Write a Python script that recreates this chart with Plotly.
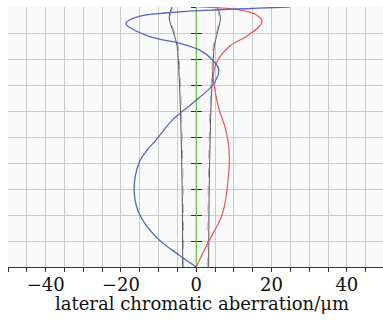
import plotly.graph_objects as go

# field (normalized) and lateral color values (µm)
blue_y = [0.0, 0.045, 0.116, 0.207, 0.296, 0.40, 0.45, 0.488, 0.566, 0.63, 0.70, 0.758, 0.796, 0.835, 0.861, 0.887, 0.938, 0.964, 0.977, 0.986, 1.0]
blue_x = [0.0, -4.5, -10.7, -15.2, -16.5, -15.2, -13.0, -10.7, -6.3, -1.0, 4.35, 6.0, 4.35, 0.8, -4.5, -12.5, -18.7, -15.2, -8.1, 0.8, 24.8]

red_y = [0.0, 0.09, 0.206, 0.36, 0.424, 0.488, 0.55, 0.604, 0.695, 0.733, 0.784, 0.848, 0.887, 0.926, 0.945, 0.970, 0.989, 1.0]
red_x = [0.0, 3.0, 7.0, 8.6, 8.8, 8.4, 7.4, 6.1, 4.8, 4.5, 5.3, 8.8, 13.3, 16.8, 17.5, 15.9, 11.5, 0.5]

green_y = [0.0, 1.0]
green_x = [0.0, 0.0]

airy_y = [0.0, 0.25, 0.5, 0.65, 0.75, 0.85, 0.9, 0.96, 1.0]
airy_left = [-3.6, -3.7, -4.0, -4.3, -4.6, -5.1, -6.0, -7.2, -6.5]
airy_right = [3.3, 3.4, 3.7, 4.0, 4.4, 4.8, 5.6, 6.4, 5.6]

xmin, xmax = -50, 49.6
xtickvals = [-40, -20, 0, 20, 40]
xticktext = ["−40", "−20", "0", "20", "40"]
yticks = [0.1, 0.2, 0.3, 0.4, 0.5, 0.6, 0.7, 0.8, 0.9, 1.0]
x_title = "lateral chromatic aberration/μm"

fig = go.Figure()
gray = "#555555"
fig.add_trace(go.Scatter(x=airy_left, y=airy_y, mode="lines", line=dict(color=gray, width=1, shape="spline")))
fig.add_trace(go.Scatter(x=[v + 0.25 for v in airy_left], y=airy_y, mode="lines", line=dict(color="#999999", width=0.8, dash="dash", shape="spline")))
fig.add_trace(go.Scatter(x=airy_right, y=airy_y, mode="lines", line=dict(color=gray, width=1, shape="spline")))
fig.add_trace(go.Scatter(x=[v - 0.25 for v in airy_right], y=airy_y, mode="lines", line=dict(color="#999999", width=0.8, dash="dash", shape="spline")))
fig.add_trace(go.Scatter(x=green_x, y=green_y, mode="lines", line=dict(color="#66cc44", width=1.3)))
fig.add_trace(go.Scatter(x=red_x, y=red_y, mode="lines", line=dict(color="#ee5555", width=1.2, shape="spline", smoothing=1)))
fig.add_trace(go.Scatter(x=blue_x, y=blue_y, mode="lines", line=dict(color="#5566bb", width=1.3, shape="spline", smoothing=1)))
fig.add_trace(go.Scatter(x=[0], y=[0.5], yaxis="y2", mode="markers", marker=dict(opacity=0), hoverinfo="skip"))

pos = (0 - xmin) / (xmax - xmin)
grid = "#cccccc"
font = "DejaVu Serif"

fig.update_layout(
    width=383, height=324,
    margin=dict(l=8, r=0, t=7, b=57),
    paper_bgcolor="white", plot_bgcolor="#fafafa",
    showlegend=False,
    font=dict(family=font),
    xaxis=dict(
        range=[xmin, xmax], tickvals=xtickvals, ticktext=xticktext, ticks="outside", ticklen=4, tickcolor="#333",
        showline=True, linecolor="#333", linewidth=1, zeroline=False,
        showgrid=True, gridcolor=grid, gridwidth=1,
        minor=dict(dtick=5, tick0=0, ticks="outside", ticklen=4, tickcolor="#333", showgrid=True, gridcolor=grid),
        tickfont=dict(family=font, size=18, color="#111"),
        ticklabelstandoff=-3,
    ),
    yaxis=dict(
        range=[0, 1], tickvals=yticks, showticklabels=False, ticks="outside", ticklen=5, tickcolor="#333",
        anchor="free", position=pos, showline=False, zeroline=False,
        showgrid=True, gridcolor=grid,
    ),
    yaxis2=dict(
        range=[0, 1], tickvals=yticks, showticklabels=False, ticks="inside", ticklen=5, tickcolor="#333",
        overlaying="y", anchor="free", position=pos, showline=False, zeroline=False, showgrid=False,
    ),
    annotations=[dict(
        text=x_title, xref="paper", yref="paper", x=0.516, y=-0.14,
        xanchor="center", yanchor="middle", showarrow=False,
        font=dict(family=font, size=18, color="#111"),
    )],
)
fig.write_html("out.html")
